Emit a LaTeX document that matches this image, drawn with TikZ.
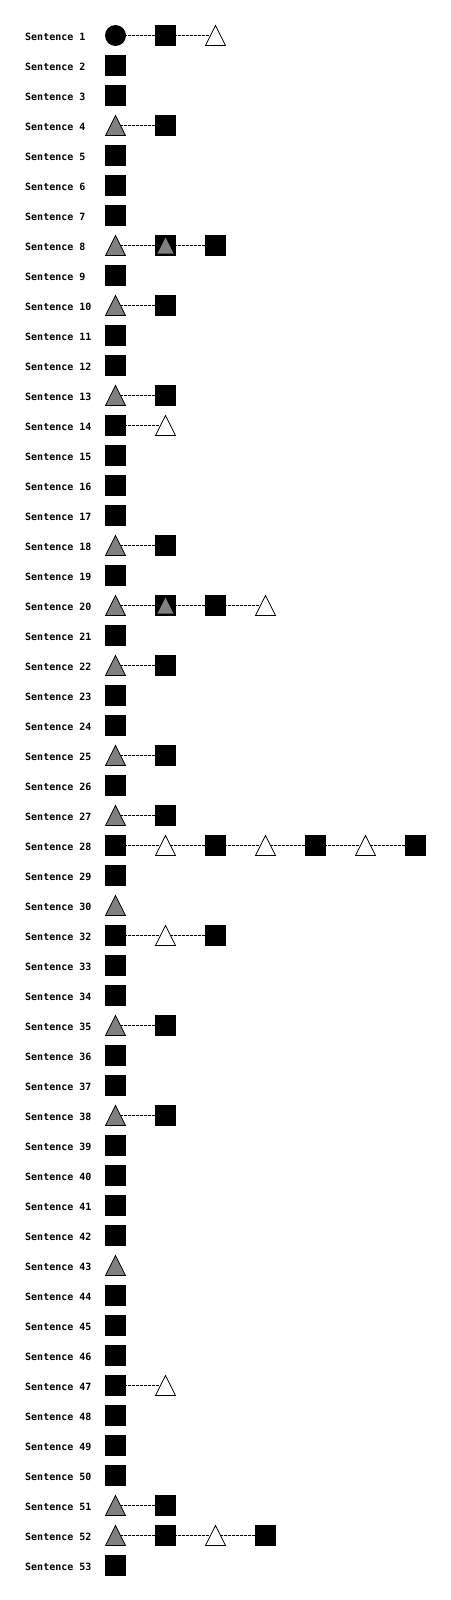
\documentclass[tikz,border=0pt]{standalone}
\usepackage{fontspec}
\newfontfamily\lblfont{DejaVu Sans Mono}
\begin{document}
\begin{tikzpicture}[x=1pt,y=-1pt,
  lbl/.style={font=\lblfont\bfseries\fontsize{10}{12}\selectfont,anchor=base west,inner sep=0pt},
  conn/.style={draw=black,line width=1pt,dash pattern=on 3pt off 1pt},
  sqr/.style={rectangle,fill=black,minimum size=21pt,inner sep=0pt},
  circ/.style={circle,fill=black,minimum size=21pt,inner sep=0pt},
  gtri/.style={fill=gray,draw=black,line width=0.8pt,line join=miter},
  wtri/.style={fill=white,draw=black,line width=0.8pt,line join=miter},
  itri/.style={fill=gray},
]
\useasboundingbox (0,0) rectangle (450,1600);
% row data: number / list of shapes
\def\rowlist{1/{c,s,w},2/{s},3/{s},4/{g,s},5/{s},6/{s},7/{s},8/{g,i,s},9/{s},10/{g,s},11/{s},12/{s},13/{g,s},14/{s,w},15/{s},16/{s},17/{s},18/{g,s},19/{s},20/{g,i,s,w},21/{s},22/{g,s},23/{s},24/{s},25/{g,s},26/{s},27/{g,s},28/{s,w,s,w,s,w,s},29/{s},30/{g},32/{s,w,s},33/{s},34/{s},35/{g,s},36/{s},37/{s},38/{g,s},39/{s},40/{s},41/{s},42/{s},43/{g},44/{s},45/{s},46/{s},47/{s,w},48/{s},49/{s},50/{s},51/{g,s},52/{g,s,w,s},53/{s}}
\foreach \n/\shapes [count=\r from 0] in \rowlist {
  \pgfmathsetmacro{\yy}{35.5+30*\r}
  \node[lbl] (t\n) at (25,\yy+5) {Sentence \n};
  % connectors first
  \foreach \k [count=\j from 0] in \shapes {
    \coordinate (p\n-\j) at (115.5+50*\j,\yy);
    \ifnum\j>0
      \pgfmathtruncatemacro{\jm}{\j-1}
      \draw[conn] (p\n-\jm) -- (p\n-\j);
    \fi
  }
  \foreach \k [count=\j from 0] in \shapes {
    \if c\k \node[circ] (n\n-\j) at (p\n-\j) {};\fi
    \if s\k \node[sqr] (n\n-\j) at (p\n-\j) {};\fi
    \if g\k \filldraw[gtri] (p\n-\j) ++(-10,10) -- ++(20,0) -- ++(-10,-20) -- cycle;\fi
    \if w\k \filldraw[wtri] (p\n-\j) ++(-10,10) -- ++(20,0) -- ++(-10,-20) -- cycle;\fi
    \if i\k \node[sqr] (n\n-\j) at (p\n-\j) {};
      \fill[itri] (p\n-\j) ++(-8,8) -- ++(16,0) -- ++(-8,-16) -- cycle;\fi
  }
}
\end{tikzpicture}
\end{document}
